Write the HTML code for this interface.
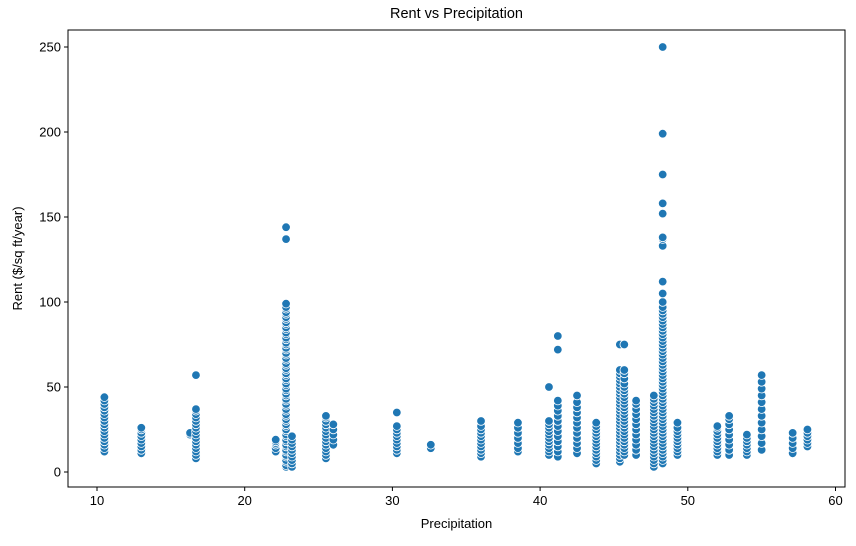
<!DOCTYPE html>
<html><head><meta charset="utf-8"><style>
body{margin:0;background:#fff;}
svg text{font-family:"Liberation Sans","DejaVu Sans",sans-serif;fill:#000;}
</style></head><body>
<svg id="chart" width="856" height="541" xmlns="http://www.w3.org/2000/svg"></svg>
<script>
const xTicks=[10,20,30,40,50,60];
const yTicks=[0,50,100,150,200,250];
const colX=[10.5,13,16.3,16.7,22.1,22.8,23.2,25.5,26,30.3,32.6,36,38.5,40.6,41.2,42.5,43.8,45.4,45.7,46.5,47.7,48.3,49.3,52,52.8,54,55,57.1,58.1];
const colY=[
[12,14,16,18,20,22,24,26,28,30,32,34,36,38,40,42,44],
[11,13,15,17,19,21,23,25,26],
[22,23],
[8,10,12,14,16,18,20,22,24,26,28,30,32,34,36,37,57],
[12,14,16,17,18,19],
[3,4,6,7,9,10,12,13,15,16,18,19,21,22,24,25,27,28,30,31,33,34,36,37,39,40,42,43,45,46,48,49,51,52,54,55,57,58,60,61,63,64,66,67,69,70,72,73,75,76,78,79,81,82,84,85,87,88,90,91,93,94,96,97,99,137,144],
[3,5,7,9,11,13,15,17,19,21],
[8,10,12,14,16,18,20,22,24,26,28,30,32,33],
[16,19,22,25,28],
[11,13,15,17,19,21,23,25,27,35],
[14,16],
[9,11,13,15,17,19,21,23,25,27,30],
[12,14,17,20,23,26,29],
[10,12,14,16,18,20,22,24,26,28,30,50],
[9,12,15,18,21,24,27,30,33,36,39,42,72,80],
[11,14,17,20,23,26,29,32,35,38,41,45],
[5,7,9,11,13,15,17,19,21,23,25,27,29],
[6,8,10,12,14,16,18,20,22,24,26,28,30,32,34,36,38,40,42,44,46,48,50,52,54,56,58,60,75],
[10,12,14,16,18,20,22,24,26,28,30,32,34,36,38,40,42,44,46,48,50,52,55,58,60,75],
[10,13,16,19,22,25,28,31,34,37,40,42],
[3,5,7,9,11,13,15,17,19,21,23,25,27,29,31,33,35,37,39,41,43,45],
[5,7,9,11,13,15,17,19,21,23,25,27,29,31,33,35,37,39,41,43,45,47,49,51,53,55,57,59,61,63,65,67,69,71,73,75,77,79,81,83,85,87,89,91,93,95,97,100,105,112,133,137,138,152,158,175,199,250],
[10,12,14,16,18,20,22,24,26,29],
[10,12,14,16,18,20,22,24,26,27],
[10,13,16,19,22,25,28,31,33],
[10,12,14,16,18,20,22],
[13,17,21,25,29,33,37,41,45,49,53,57],
[11,14,17,20,23],
[15,17,19,21,23,25]
];
const L=68,R=845,T=30,B=487;
const xs=v=>97+(v-10)*14.77;
const ys=v=>472-v*1.7;
const svg=document.getElementById('chart');
const NS='http://www.w3.org/2000/svg';
function mk(tag,attrs,parent){const e=document.createElementNS(NS,tag);for(const k in attrs)e.setAttribute(k,attrs[k]);(parent||svg).appendChild(e);return e;}
const pts=mk('g',{});


colX.forEach((x,i)=>{colY[i].forEach(y=>{
 const c=mk('circle',{cx:xs(x),cy:ys(y),r:4.3,fill:'#1f77b4',stroke:'#fff','stroke-width':0.8},pts);
 
 
});});
const frame=mk('rect',{x:L,y:T,width:R-L,height:B-T,fill:'none',stroke:'#000','stroke-width':1});


xTicks.forEach(t=>{
 mk('line',{x1:xs(t),x2:xs(t),y1:B,y2:B+4,stroke:'#000'});
 const tx=mk('text',{x:xs(t),y:B+18,'text-anchor':'middle','font-size':13});
 tx.textContent=t;
 
 
});
yTicks.forEach(t=>{
 mk('line',{x1:L-4,x2:L,y1:ys(t),y2:ys(t),stroke:'#000'});
 const tx=mk('text',{x:L-7,y:ys(t)+4.5,'text-anchor':'end','font-size':13});
 tx.textContent=t;
 
 
});
const title=mk('text',{x:(L+R)/2,y:18,'text-anchor':'middle','font-size':14.5});
title.textContent='Rent vs Precipitation';


const xl=mk('text',{x:(L+R)/2,y:528,'text-anchor':'middle','font-size':13});
xl.textContent='Precipitation';


const yl=mk('text',{x:0,y:0,'text-anchor':'middle','font-size':13,transform:'translate(22,'+((T+B)/2)+') rotate(-90)'});
yl.textContent='Rent ($/sq ft/year)';


</script>
</body></html>
